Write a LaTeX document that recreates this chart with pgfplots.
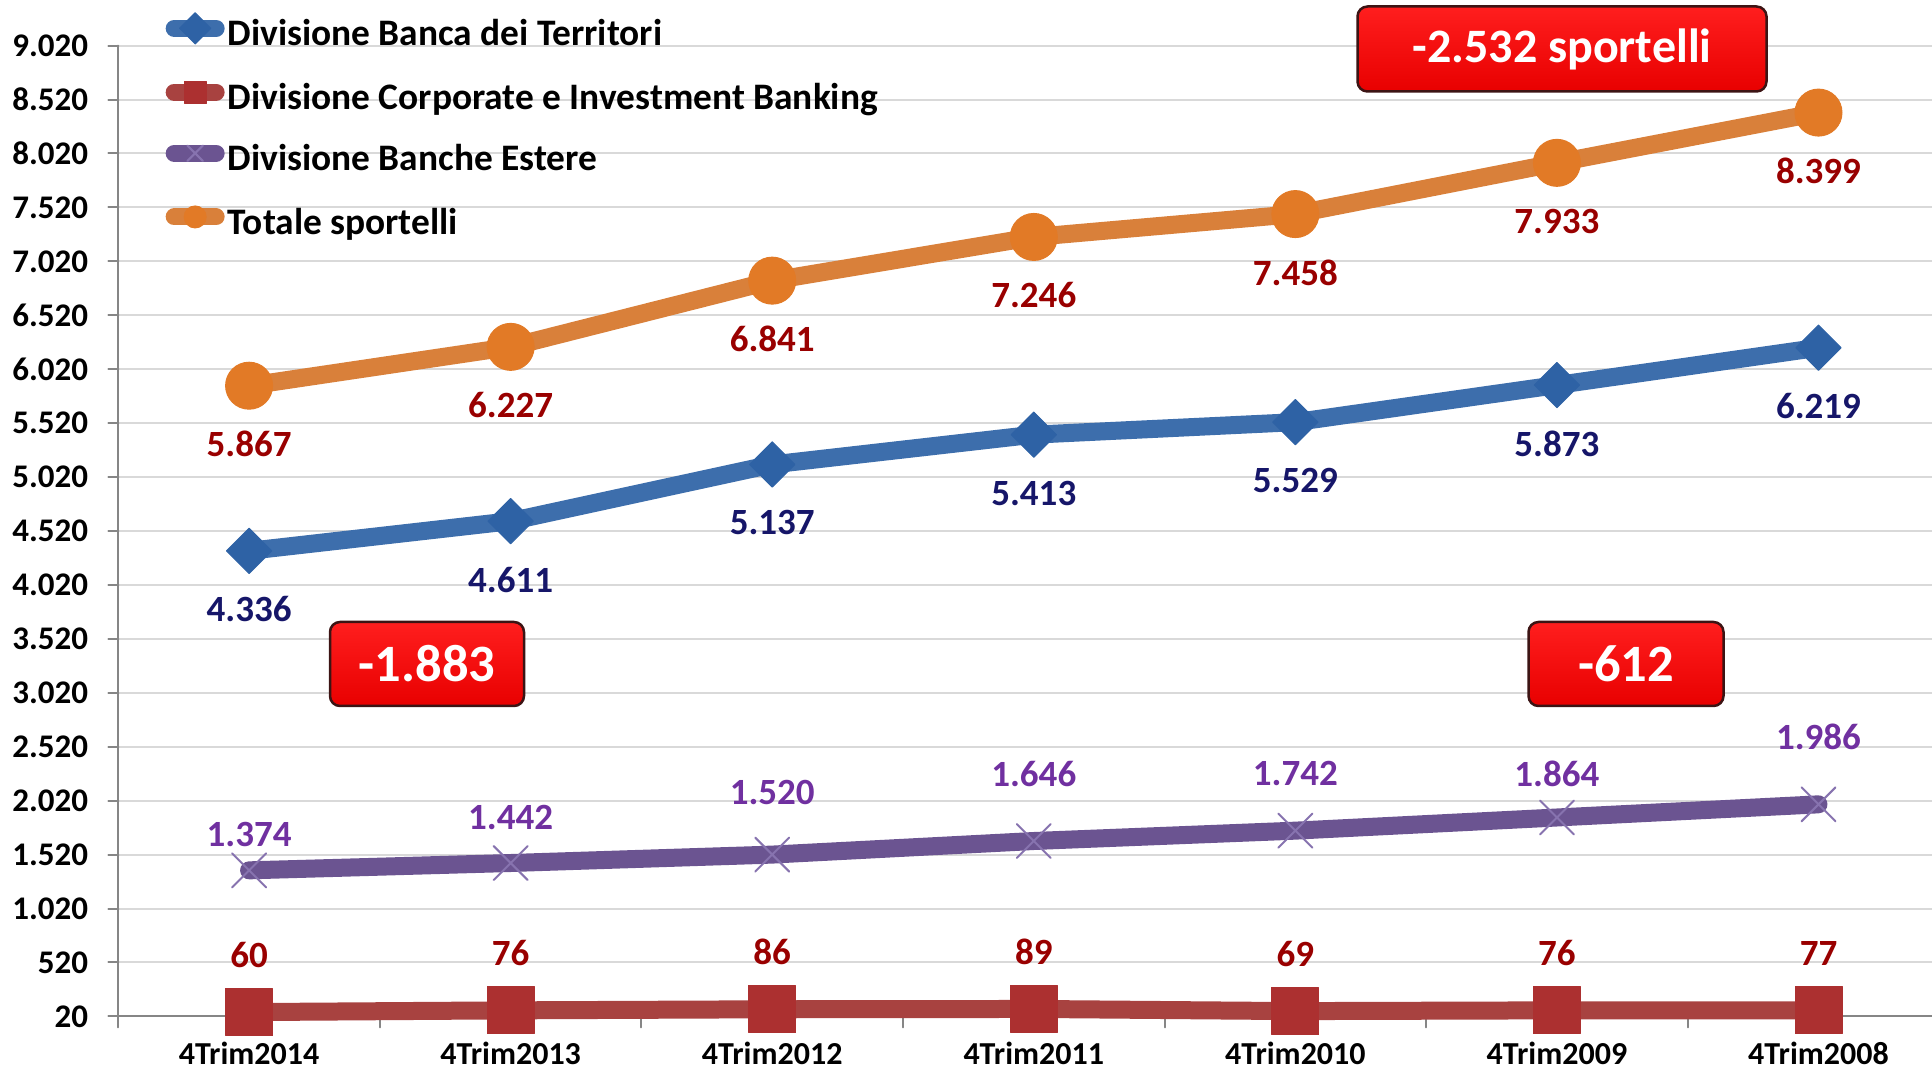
\documentclass[border=0pt]{standalone}
\usepackage{pgfplots}
\pgfplotsset{compat=1.18}
\usepackage{pgfplotstable}
\usepackage{fontspec}
\setmainfont{Carlito}
\pgfkeys{/pgf/number format/1000 sep={.}, /pgf/number format/assume math mode=true}

\definecolor{orangeL}{RGB}{217,128,58}
\definecolor{orangeM}{RGB}{226,122,38}
\definecolor{blueL}{RGB}{61,110,172}
\definecolor{blueM}{RGB}{46,98,165}
\definecolor{purpleL}{RGB}{107,84,145}
\definecolor{purpleM}{RGB}{135,115,175}
\definecolor{redL}{RGB}{168,66,64}
\definecolor{redM}{RGB}{172,48,48}
\definecolor{labRed}{RGB}{153,0,0}
\definecolor{labNavy}{RGB}{22,22,105}
\definecolor{labPurple}{RGB}{112,48,160}
\definecolor{gridgray}{RGB}{217,217,217}
\definecolor{axisgray}{RGB}{134,134,134}
\definecolor{boxBorder}{RGB}{60,20,20}

\pgfplotstableread{
x y dy
0 5867 -58.5
1 6227 -58.5
2 6841 -58.5
3 7246 -58.5
4 7458 -58.5
5 7933 -58.5
6 8399 -58.5
}\tot
\pgfplotstableread{
x y dy
0 4336 -58.5
1 4611 -58.5
2 5137 -58.5
3 5413 -58.5
4 5529 -58.5
5 5873 -58.5
6 6219 -58.5
}\bdt
\pgfplotstableread{
x y dy
0 1374 36
1 1442 46
2 1520 62
3 1646 67
4 1742 57
5 1864 44
6 1986 67.5
}\est
\pgfplotstableread{
x y dy
0 60 57
1 76 57
2 86 57
3 89 57
4 69 57
5 76 57
6 77 57
}\cib

\begin{document}
\begin{tikzpicture}[x=1pt,y=1pt]
\useasboundingbox (0pt,0pt) rectangle (1932pt,1070pt);
\begin{axis}[
  at={(118.3pt,53.6pt)}, anchor=south west,
  scale only axis, width=1813.7pt, height=970.8pt,
  xmin=-0.5, xmax=6.434, ymin=20, ymax=9020,
  clip=false,
  axis x line*=bottom, axis y line*=left,
  axis line style={draw=axisgray, line width=2pt},
  ytick={20,520,...,9020},
  ymajorgrids, grid style={draw=gridgray, line width=2pt},
  tick align=outside,
  major tick length=10pt,
  major tick style={draw=axisgray, line width=2pt},
  major x tick style={draw=none},
  xtick={0,...,6},
  xticklabels={4Trim2014,4Trim2013,4Trim2012,4Trim2011,4Trim2010,4Trim2009,4Trim2008},
  minor xtick={-0.5,0.5,...,5.5},
  minor tick length=11pt,
  minor x tick style={draw=axisgray, line width=2pt},
  yticklabel style={font=\bfseries\fontsize{33}{33}\selectfont, inner sep=0pt, anchor=east, xshift=-20pt},
  xticklabel style={font=\bfseries\fontsize{32}{32}\selectfont, inner sep=0pt, anchor=base, yshift=-38pt},
  legend style={at={(axis description cs:0.026,1.034)}, anchor=north west, draw=none, fill=none,
    inner sep=0pt, row sep=26.2pt, column sep=3pt,
    font=\bfseries\fontsize{37.4}{37.4}\selectfont,
    nodes={inner sep=0pt, text height=26pt, text depth=9pt}},
  legend cell align=left,
  legend image code/.code={\draw[mark repeat=2, mark phase=2, line cap=round, mark size=11pt, line width=17pt]
     plot coordinates {(9pt,9pt) (30pt,9pt) (51pt,9pt)};},
  nodes near coords,
  visualization depends on={\thisrow{dy} \as \dy},
  every node near coord/.append style={anchor=center, inner sep=0pt, yshift=\dy pt,
     font=\bfseries\fontsize{37}{37}\selectfont},
  line join=round, line cap=round,
]
\addplot[color=blueL, line width=18pt, mark=square*, mark size=16pt,
  mark options={rotate=45, fill=blueM, draw=blueM, line width=1pt},
  every node near coord/.append style={text=labNavy}]
  table[x=x,y=y]{\bdt};
\addlegendentry{Divisione Banca dei Territori}
\addplot[color=redL, line width=18pt, mark=square*, mark size=23.5pt,
  mark options={fill=redM, draw=redM, line width=1pt},
  every node near coord/.append style={text=labRed}]
  table[x=x,y=y]{\cib};
\addlegendentry{Divisione Corporate e Investment Banking}
\addplot[color=purpleL, line width=18pt, mark=x, mark size=24pt,
  mark options={draw=purpleM, line width=2pt},
  every node near coord/.append style={text=labPurple}]
  table[x=x,y=y]{\est};
\addlegendentry{Divisione Banche Estere}
\addplot[color=orangeL, line width=18pt, mark=*, mark size=23.5pt,
  mark options={fill=orangeM, draw=orangeM, line width=1pt},
  every node near coord/.append style={text=labRed}]
  table[x=x,y=y]{\tot};
\addlegendentry{Totale sportelli}
\end{axis}
\tikzset{redbox/.style={draw=boxBorder, line width=2.5pt, rounded corners=10pt,
  top color={rgb,255:red,255;green,30;blue,30}, bottom color={rgb,255:red,232;green,0;blue,0},
  text=white, font=\bfseries\fontsize{52.5}{52.5}\selectfont, inner sep=0pt}}
\node[redbox, minimum width=409pt, minimum height=85pt, font=\bfseries\fontsize{48}{48}\selectfont] at (1562pt,1021pt) {-2.532 sportelli};
\node[redbox, minimum width=194pt, minimum height=84pt] at (427pt,406pt) {-1.883};
\node[redbox, minimum width=195pt, minimum height=84pt] at (1626pt,406pt) {-612};
\end{tikzpicture}
\end{document}
